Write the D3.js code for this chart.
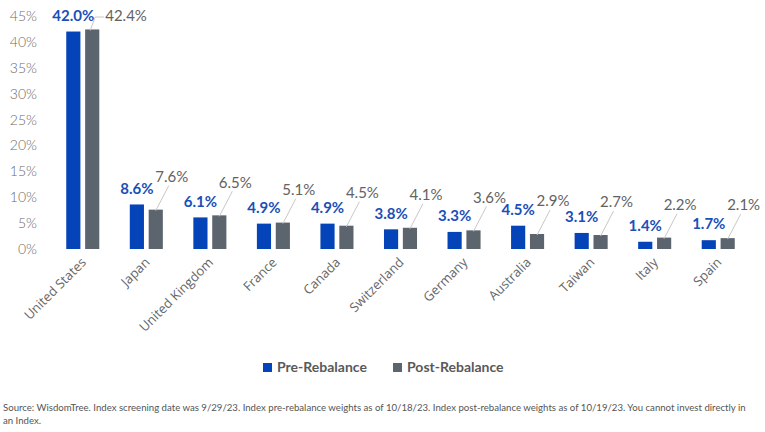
<!DOCTYPE html>
<html><head><meta charset="utf-8">
<script src="https://cdn.jsdelivr.net/npm/d3@7"></script>
<style>
body{margin:0;background:#fff;}
svg{display:block;}
</style></head>
<body>
<svg id="chart" width="765" height="432"></svg>
<script>
const categories = ["United States","Japan","United Kingdom","France","Canada","Switzerland","Germany","Australia","Taiwan","Italy","Spain"];
const preRebalance = [42.0, 8.6, 6.1, 4.9, 4.9, 3.8, 3.3, 4.5, 3.1, 1.4, 1.7];
const postRebalance = [42.4, 7.6, 6.5, 5.1, 4.5, 4.1, 3.6, 2.9, 2.7, 2.2, 2.1];
const seriesNames = ["Pre-Rebalance","Post-Rebalance"];
const yTicks = [0,5,10,15,20,25,30,35,40,45];
const footerLines = [
  "Source: WisdomTree. Index screening date was 9/29/23. Index pre-rebalance weights as of 10/18/23. Index post-rebalance weights as of 10/19/23. You cannot invest directly in",
  "an Index."
];

const colors = {"Pre-Rebalance":"#0443b8","Post-Rebalance":"#5c656e"};
const svg = d3.select("#chart");

const x0 = d3.scaleBand().domain(categories).range([51,750]).paddingInner(0.48).paddingOuter(0.24);
const x1 = d3.scaleBand().domain(seriesNames).range([0,x0.bandwidth()]).paddingInner(0.25);
const y = d3.scaleLinear().domain([0,45]).range([249,16]);

// y axis
const yAxis = d3.axisLeft(y).tickValues(yTicks).tickFormat(d=>d+"%").tickSize(0).tickPadding(0);
const gy = svg.append("g").attr("transform","translate(37,0)").call(yAxis);
gy.select(".domain").remove();
gy.selectAll("text").attr("font-family","Lato, 'Open Sans', sans-serif").attr("font-size",14).attr("fill","#6b6b6b").attr("font-weight",300);

// x axis labels
const xAxis = d3.axisBottom(x0).tickSize(0).tickPadding(0);
const gx = svg.append("g").attr("transform","translate(0,258)").call(xAxis);
gx.select(".domain").remove();
gx.selectAll("text")
  .attr("font-family","'Open Sans', sans-serif").attr("font-size",13).attr("fill","#666")
  .attr("text-anchor","end").attr("dy","0.35em")
  .attr("transform","translate(1,2) rotate(-45)");

const data = categories.map((c,i)=>({cat:c, vals:[{s:seriesNames[0],v:preRebalance[i]},{s:seriesNames[1],v:postRebalance[i]}]}));

const groups = svg.append("g").selectAll("g").data(data).join("g")
  .attr("transform",d=>`translate(${x0(d.cat)},0)`);
groups.selectAll("rect").data(d=>d.vals).join("rect")
  .attr("x",d=>x1(d.s)).attr("width",x1.bandwidth())
  .attr("y",d=>y(d.v)).attr("height",d=>y(0)-y(d.v))
  .attr("fill",d=>colors[d.s]);

// pre labels
groups.append("text")
  .attr("x",x1(seriesNames[0])+x1.bandwidth()/2)
  .attr("y",d=>y(d.vals[0].v)-16)
  .attr("dy","0.35em")
  .attr("text-anchor","middle")
  .attr("font-family","Lato, sans-serif").attr("font-weight",700).attr("font-size",15)
  .attr("fill","#1a4fb8")
  .text(d=>d.vals[0].v.toFixed(1)+"%");

// post labels with leader lines
groups.each(function(d){
  const g = d3.select(this);
  const bx = x1(seriesNames[1])+x1.bandwidth()/2;
  const top = y(d.vals[1].v);
  let ly = top-33, lx, anchor="middle";
  const txt = d.vals[1].v.toFixed(1)+"%";
  if (ly < 16) {
    ly = 16;
    lx = bx+13; anchor="start";
    g.append("path").attr("d",`M${bx-2},${top+1}L${bx+3},${ly+1}L${lx-1},${ly+1}`)
      .attr("fill","none").attr("stroke","#c8c8c8").attr("stroke-width",1);
  } else {
    lx = bx+16;
    g.append("line").attr("x1",bx).attr("y1",top+1).attr("x2",lx-3).attr("y2",ly+9)
      .attr("stroke","#c8c8c8").attr("stroke-width",1);
  }
  g.append("text").attr("x",lx).attr("y",ly).attr("dy","0.35em")
    .attr("text-anchor",anchor)
    .attr("font-family","Lato, sans-serif").attr("font-weight",400).attr("font-size",15)
    .attr("fill","#626262")
    .text(txt);
});

// legend
const legend = svg.append("g");
const legX = [263,393];
seriesNames.forEach((s,i)=>{
  legend.append("rect").attr("x",legX[i]).attr("y",363).attr("width",9).attr("height",9).attr("fill",colors[s]);
  legend.append("text").attr("x",legX[i]+14).attr("y",367.5).attr("dy","0.35em")
    .attr("font-family","Lato, sans-serif").attr("font-weight",700).attr("font-size",14)
    .attr("fill","#595959").text(s);
});

// footer
const ft = svg.append("g").selectAll("text").data(footerLines).join("text")
  .attr("x",3).attr("y",(d,i)=>411+i*13)
  .attr("font-family","Lato, sans-serif").attr("font-size",10.5).attr("fill","#555")
  .text(d=>d);
const first = ft.filter((d,i)=>i===0).node();
const w = first.getComputedTextLength();
if (w > 744) {
  const fs = 10.5*744/w;
  ft.attr("font-size",fs);
}
</script>
</body></html>
